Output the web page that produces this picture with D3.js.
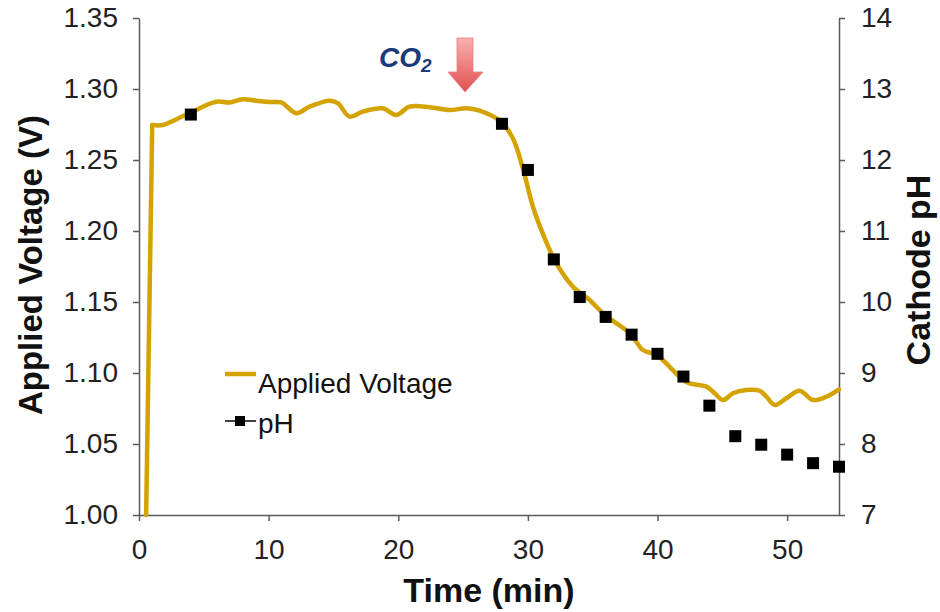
<!DOCTYPE html>
<html><head><meta charset="utf-8">
<script src="https://cdn.jsdelivr.net/npm/d3@7"></script>
<style>
body{margin:0;background:#fff;}
svg{display:block;font-family:"Liberation Sans",Arial,Helvetica,sans-serif;}
</style></head>
<body><svg id="chart" width="940" height="612"></svg>
<script>
// Applied voltage trace: time (min), voltage (V)
const voltTime = [0.55,1.02,1.81,3.74,5.96,6.98,7.99,9.04,10.07,10.97,12.13,13.16,14.70,15.34,16.24,17.27,18.81,19.85,20.87,22.42,23.96,25.25,26.27,27.95,28.84,29.61,30.39,31.16,32.19,33.47,34.76,35.92,37.92,38.87,39.95,40.93,41.96,42.48,43.77,44.41,45.05,45.82,46.85,47.88,48.40,49.04,49.94,50.96,51.99,53.02,54.0];
const voltValue = [1.000,1.2746,1.2746,1.2824,1.2910,1.2905,1.2928,1.2918,1.2908,1.2905,1.2829,1.2876,1.2918,1.2900,1.2806,1.2841,1.2864,1.2817,1.2876,1.2872,1.2852,1.2864,1.2847,1.2768,1.2653,1.2442,1.2171,1.1980,1.1773,1.1608,1.1514,1.1410,1.1275,1.1162,1.1127,1.1044,1.0951,1.0927,1.0904,1.0857,1.0810,1.0857,1.0880,1.0875,1.0833,1.0775,1.0822,1.0875,1.0810,1.0833,1.0885];
// Cathode pH samples
const phTime = [4,28,30,32,34,36,38,40,42,44,46,48,50,52,54];
const phValue = [12.64,12.51,11.86,10.60,10.07,9.79,9.54,9.27,8.95,8.54,8.11,7.99,7.85,7.73,7.68];
// Tick labels
const xTicks = [0,10,20,30,40,50];
const yLeftTicks = [1.00,1.05,1.10,1.15,1.20,1.25,1.30,1.35];
const yRightTicks = [7,8,9,10,11,12,13,14];

const svg = d3.select("#chart");
const L = 139, R = 839, T = 18, B = 515;
const x = d3.scaleLinear().domain([0,54]).range([L,R]);
const yL = d3.scaleLinear().domain([1.00,1.35]).range([B,T]);
const yR = d3.scaleLinear().domain([7,14]).range([B,T]);
const axisColor = "#5a5a5a";
const gold = "#D4A300";

function styleAxis(g){
  g.selectAll("path.domain").attr("stroke",axisColor).attr("stroke-width",1.5);
  g.selectAll(".tick line").attr("stroke",axisColor).attr("stroke-width",1.5);
  g.selectAll(".tick text").attr("fill","#222").style("font-size","28px").style("font-family","'Liberation Sans',Arial,sans-serif");
}
const gx = svg.append("g").attr("transform",`translate(0,${B})`)
  .call(d3.axisBottom(x).tickValues(xTicks).tickFormat(d3.format("d")).tickSize(6).tickSizeOuter(0).tickPadding(18));
styleAxis(gx);
const gl = svg.append("g").attr("transform",`translate(${L},0)`)
  .call(d3.axisLeft(yL).tickValues(yLeftTicks).tickFormat(d3.format(".2f")).tickSize(6).tickSizeOuter(0).tickPadding(15));
styleAxis(gl);
const gr = svg.append("g").attr("transform",`translate(${R},0)`)
  .call(d3.axisRight(yR).tickValues(yRightTicks).tickFormat(d3.format("d")).tickSize(6).tickSizeOuter(0).tickPadding(16));
styleAxis(gr);

// Voltage line: straight initial ramp, smooth afterwards
const voltData = voltTime.map((t,i)=>({t, v: voltValue[i]}));
const lineLin = d3.line().x(d=>x(d.t)).y(d=>yL(d.v));
const lineSmooth = d3.line().x(d=>x(d.t)).y(d=>yL(d.v)).curve(d3.curveCatmullRom.alpha(0.5));
svg.append("path").datum(voltData.slice(0,2)).attr("d",lineLin).attr("fill","none")
  .attr("stroke",gold).attr("stroke-width",4.5).attr("stroke-linecap","round");
svg.append("path").datum(voltData.slice(1)).attr("d",lineSmooth).attr("fill","none")
  .attr("stroke",gold).attr("stroke-width",4.5).attr("stroke-linejoin","round").attr("stroke-linecap","round");

// pH markers
const ms = 12;
svg.append("g").selectAll("rect").data(phTime.map((t,i)=>({t, p: phValue[i]}))).join("rect")
  .attr("x",d=>x(d.t)-ms/2).attr("y",d=>yR(d.p)-ms/2).attr("width",ms).attr("height",ms).attr("fill","#000");

// Axis titles
svg.append("text").attr("transform","translate(42,265) rotate(-90)").attr("text-anchor","middle")
  .style("font-size","33px").style("font-weight","bold").attr("fill","#111").text("Applied Voltage (V)");
svg.append("text").attr("transform","translate(930,270) rotate(-90)").attr("text-anchor","middle")
  .style("font-size","34px").style("font-weight","bold").attr("fill","#111").text("Cathode pH");
svg.append("text").attr("x",489).attr("y",602).attr("text-anchor","middle")
  .style("font-size","34px").style("font-weight","bold").attr("fill","#111").text("Time (min)");

// Legend
svg.append("line").attr("x1",225).attr("x2",256).attr("y1",374).attr("y2",374).attr("stroke",gold).attr("stroke-width",4.5);
svg.append("text").attr("x",258).attr("y",393).style("font-size","28px").attr("fill","#111").text("Applied Voltage");
svg.append("line").attr("x1",225).attr("x2",256).attr("y1",421).attr("y2",421).attr("stroke","#000").attr("stroke-width",1.5);
svg.append("rect").attr("x",235).attr("y",416).attr("width",10).attr("height",10).attr("fill","#000");
svg.append("text").attr("x",258).attr("y",433).style("font-size","28px").attr("fill","#111").text("pH");

// CO2 annotation
const co2 = svg.append("text").attr("x",379).attr("y",67).attr("fill","#1a3a7a")
  .style("font-size","28px").style("font-weight","bold").style("font-style","italic");
co2.append("tspan").text("CO");
co2.append("tspan").attr("dy",5).style("font-size","19px").text("2");

const defs = svg.append("defs");
const grad = defs.append("linearGradient").attr("id","ag").attr("x1",0).attr("y1",0).attr("x2",0).attr("y2",1);
grad.append("stop").attr("offset","0%").attr("stop-color","#f9b0b0");
grad.append("stop").attr("offset","100%").attr("stop-color","#e05050");
svg.append("path").attr("d","M457,38 L473,38 L473,72 L483,72 L465,92 L448,72 L457,72 Z")
  .attr("fill","url(#ag)").attr("stroke","#e88080").attr("stroke-width",0.8);
</script></body></html>
